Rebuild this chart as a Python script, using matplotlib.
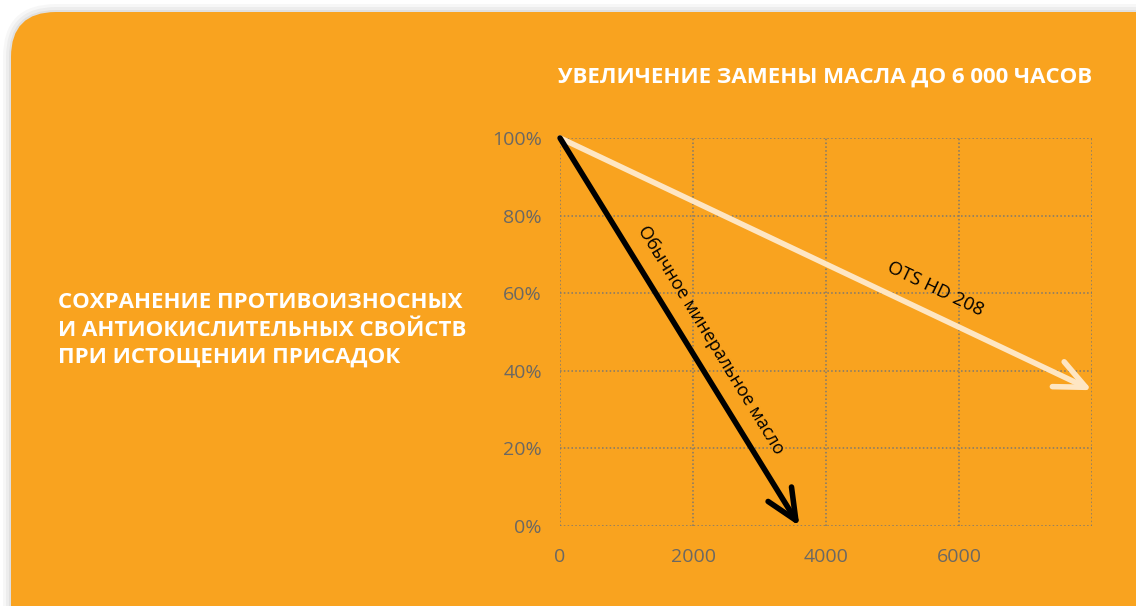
import matplotlib.pyplot as plt
from matplotlib.patches import FancyBboxPatch
import matplotlib.ticker as mtick

# data
x_ticks = [0, 2000, 4000, 6000, 8000]
x_ticklabels = ['0', '2000', '4000', '6000', '']
y_ticks = [0, 20, 40, 60, 80, 100]
mineral_hours = [0, 3600]
mineral_level = [100, 0]
ots_hours = [0, 8000]
ots_level = [100, 35]

title = 'УВЕЛИЧЕНИЕ ЗАМЕНЫ МАСЛА ДО 6 000 ЧАСОВ'
side_text = 'СОХРАНЕНИЕ ПРОТИВОИЗНОСНЫХ\nИ АНТИОКИСЛИТЕЛЬНЫХ СВОЙСТВ\nПРИ ИСТОЩЕНИИ ПРИСАДОК'
mineral_label = 'Обычное минеральное масло'
ots_label = 'OTS HD 208'

orange = '#F9A31F'
cream = '#FEE6C3'
grey = '#6B6863'

plt.rcParams['font.family'] = ['Open Sans', 'DejaVu Sans']

fig = plt.figure(figsize=(11.36, 6.06), dpi=100)
fig.patch.set_facecolor('white')

# background card (pixel coordinates)
bg = fig.add_axes([0, 0, 1, 1])
bg.set_xlim(0, 1136)
bg.set_ylim(606, 0)
bg.axis('off')
for i, a in enumerate([0.03, 0.04, 0.05]):
    p = 8 - i * 3
    bg.add_patch(FancyBboxPatch((11 - p, 12 - p), 1300 + 2 * p, 800 + 2 * p,
                                boxstyle='round,pad=0,rounding_size=%d' % (45 + p),
                                fc='black', ec='none', alpha=a))
bg.add_patch(FancyBboxPatch((11, 12), 1300, 800,
                            boxstyle='round,pad=0,rounding_size=45',
                            fc=orange, ec='none'))

bg.text(58, 330, side_text, color='white', fontsize=16, fontweight='bold',
        va='center', ha='left', linespacing=1.4)
bg.text(825, 77, title, color='white', fontsize=16, fontweight='bold',
        va='center', ha='center')

ax = fig.add_axes([560 / 1136, 1 - 526 / 606, 532 / 1136, 388 / 606])
ax.set_facecolor('none')
ax.set_xlim(0, 8000)
ax.set_ylim(0, 100)
for s in ax.spines.values():
    s.set_visible(False)
ax.set_xticks(x_ticks)
ax.set_xticklabels(x_ticklabels)
ax.set_yticks(y_ticks)
ax.yaxis.set_major_formatter(mtick.PercentFormatter(decimals=0))
ax.tick_params(length=0, labelsize=14, labelcolor=grey)
ax.tick_params(axis='x', pad=16)
ax.tick_params(axis='y', pad=13)
ax.grid(True, color='#7d7870', linestyle=(0, (1, 1.5)), linewidth=1.1)
ax.set_axisbelow(True)

ax.annotate('', xy=(ots_hours[1], ots_level[1]), xytext=(ots_hours[0], ots_level[0]),
            arrowprops=dict(arrowstyle='->,head_length=1.0,head_width=0.45',
                            mutation_scale=22, color=cream, lw=4,
                            capstyle='round', joinstyle='round',
                            shrinkA=0, shrinkB=0), zorder=4)
ax.annotate('', xy=(mineral_hours[1], mineral_level[1]),
            xytext=(mineral_hours[0], mineral_level[0]),
            arrowprops=dict(arrowstyle='->,head_length=1.0,head_width=0.45',
                            mutation_scale=22, color='black', lw=4,
                            capstyle='round', joinstyle='round',
                            shrinkA=0, shrinkB=0), zorder=5)

ax.text(2260, 48, mineral_label, rotation=-58.5, rotation_mode='anchor',
        ha='center', va='center', fontsize=13, color='black')
ax.text(5650, 61, ots_label, rotation=-25.5, rotation_mode='anchor',
        ha='center', va='center', fontsize=13.5, color='black')

fig.savefig('out.png', dpi=100)
